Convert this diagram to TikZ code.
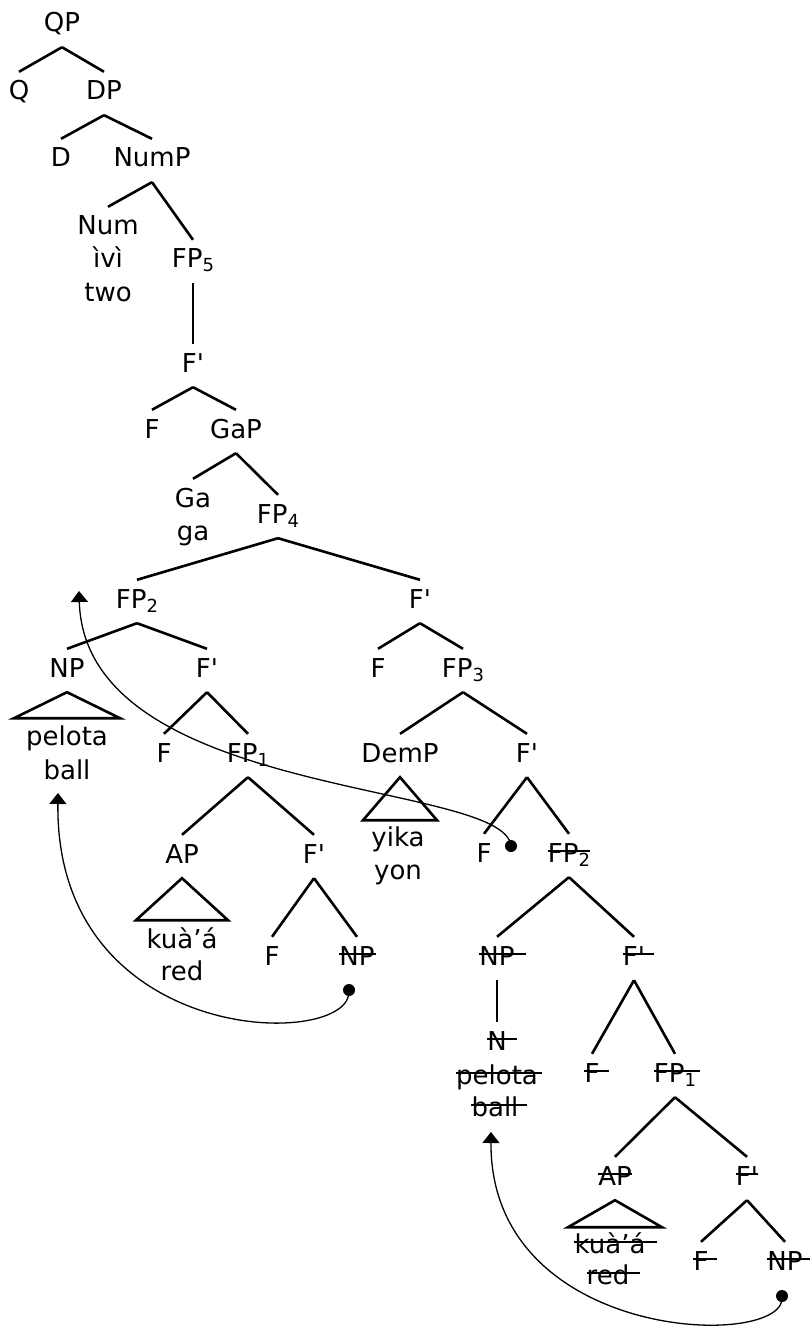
\documentclass[tikz,border=0pt]{standalone}
\usepackage{fontspec}
\setmainfont{DejaVu Sans}
\usetikzlibrary{arrows.meta}
\newcommand\subs[1]{\raisebox{-4pt}{\fontsize{18}{18}\selectfont #1}}
\newcommand\xstrike[2]{\draw[strk] ([yshift=11pt]#1.base west) -- ([xshift=#2,yshift=11pt]#1.base east);}
\begin{document}
\begin{tikzpicture}[x=1pt,y=-1pt,
  lbl/.style={anchor=base, inner xsep=0pt, inner ysep=9pt, text height=19pt, text depth=6pt, font=\fontsize{26}{30}\selectfont},
  br/.style={line width=2.6pt},
  tri/.style={line width=2.6pt, line join=miter},
  strk/.style={line width=1.5pt},
  mv/.style={line width=1.3pt, -{Triangle[width=17pt,length=11pt]}},
  dotn/.style={circle, fill, inner sep=0pt, minimum size=12pt}]
\useasboundingbox (0,0) rectangle (809,1332);
% nodes
\node[lbl] (qp) at (62,32) {QP};
\node[lbl] (q) at (19,100) {Q};
\node[lbl] (dp) at (104,100) {DP};
\node[lbl] (d) at (61,167) {D};
\node[lbl] (nump) at (152,167) {NumP};
\node[lbl] (num) at (108,235) {Num};
\node[lbl] (numa) at (108,268) {ìvì};
\node[lbl] (numb) at (108,301) {two};
\node[lbl] (fp5) at (193,268) {FP\subs{5}};
\node[lbl] (fa) at (193,372) {F\textquotesingle};
\node[lbl] (f1) at (152,438) {F};
\node[lbl] (gap) at (236,438) {GaP};
\node[lbl] (ga) at (193,507) {Ga};
\node[lbl] (gaa) at (193,540) {ga};
\node[lbl] (fp4) at (278,523) {FP\subs{4}};
\node[lbl] (fp2) at (137,608) {FP\subs{2}};
\node[lbl] (fb) at (420,608) {F\textquotesingle};
\node[lbl] (np) at (67,677) {NP};
\node[lbl] (fc) at (207,677) {F\textquotesingle};
\node[lbl] (pel) at (67,745) {pelota};
\node[lbl] (ball) at (67,779) {ball};
\node[lbl] (f2) at (164,762) {F};
\node[lbl] (fp1) at (248,762) {FP\subs{1}};
\node[lbl] (ap) at (182,863) {AP};
\node[lbl] (fd) at (314,863) {F\textquotesingle};
\node[lbl] (kua) at (182,948) {kuà’á};
\node[lbl] (red) at (182,980) {red};
\node[lbl] (f3) at (272,965) {F};
\node[lbl] (nps1) at (357,965) {NP};
\node[lbl] (f4) at (378,677) {F};
\node[lbl] (fp3) at (463,677) {FP\subs{3}};
\node[lbl] (demp) at (400,762) {DemP};
\node[lbl] (fe) at (527,762) {F\textquotesingle};
\node[lbl] (yika) at (398,846) {yika};
\node[lbl] (yon) at (398,879) {yon};
\node[lbl] (f5) at (484,862) {F};
\node[lbl] (fp2s) at (569,862) {FP\subs{2}};
\node[lbl] (nps) at (497,965) {NP};
\node[lbl] (fps) at (634,965) {F\textquotesingle};
\node[lbl] (ns) at (497,1050) {N};
\node[lbl] (pels) at (497,1084) {pelota};
\node[lbl] (balls) at (495,1116) {ball};
\node[lbl] (f6) at (592,1082) {F};
\node[lbl] (fp1s) at (675,1082) {FP\subs{1}};
\node[lbl] (aps) at (615,1185) {AP};
\node[lbl] (fps2) at (747,1185) {F\textquotesingle};
\node[lbl] (kuas) at (610,1253) {kuà’á};
\node[lbl] (reds) at (608,1284) {red};
\node[lbl] (f7) at (701,1270) {F};
\node[lbl] (nps2) at (785,1270) {NP};
% branches
\foreach \p/\c in {qp/q,qp/dp,dp/d,dp/nump,nump/num,nump/fp5,fp5/fa,fa/f1,fa/gap,
  gap/ga,gap/fp4,fp4/fp2,fp4/fb,fp2/np,fp2/fc,fc/f2,fc/fp1,fp1/ap,fp1/fd,fd/f3,fd/nps1,
  fb/f4,fb/fp3,fp3/demp,fp3/fe,fe/f5,fe/fp2s,fp2s/nps,fp2s/fps,nps/ns,fps/f6,fps/fp1s,
  fp1s/aps,fp1s/fps2,fps2/f7,fps2/nps2}
  \draw[br] (\p.south) -- (\c.north);
% triangles
\draw[tri] (np.south) -- ++(-53,26) -- ++(106,0) -- cycle;
\draw[tri] (demp.south) -- ++(-37,43) -- ++(74,0) -- cycle;
\draw[tri] (ap.south) -- ++(-46,42) -- ++(92,0) -- cycle;
\draw[tri] (aps.south) -- ++(-47,27) -- ++(94,0) -- cycle;
% strikes
\xstrike{nps1}{1pt}
\xstrike{fp2s}{0pt}
\xstrike{nps}{11pt}
\xstrike{fps}{9pt}
\xstrike{ns}{10pt}
\xstrike{pels}{4pt}
\xstrike{balls}{8pt}
\xstrike{f6}{9pt}
\xstrike{fp1s}{4pt}
\xstrike{aps}{0pt}
\xstrike{fps2}{0pt}
\xstrike{kuas}{11pt}
\xstrike{reds}{10pt}
\xstrike{f7}{8pt}
\xstrike{nps2}{8pt}
% movement arrows
\node[dotn] (d1) at (511,846) {};
\node[dotn] (d2) at (349,990) {};
\node[dotn] (d3) at (782,1296) {};
\coordinate (t1) at (79,591);
\coordinate (t2) at (58,793);
\coordinate (t3) at (491,1132);
\draw[mv] (d1.center) .. controls (505,780) and (85,800) .. (t1);
\draw[mv] (d2.center) .. controls (355,1050) and (55,1050) .. (t2);
\draw[mv] (d3.center) .. controls (790,1350) and (490,1345) .. (t3);
\end{tikzpicture}
\end{document}
